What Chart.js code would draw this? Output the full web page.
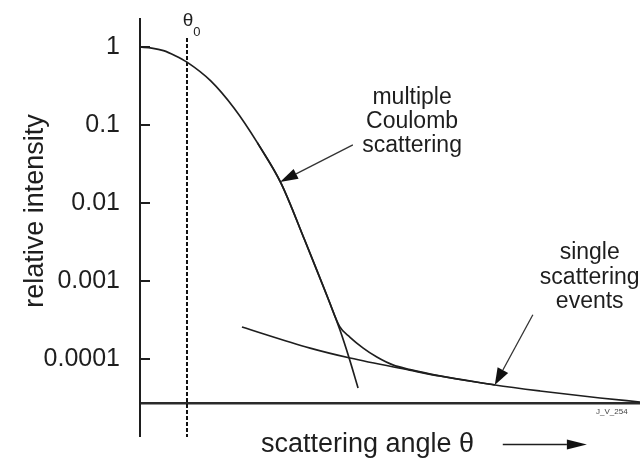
<!DOCTYPE html>
<html>
<head>
<meta charset="utf-8">
<script src="https://cdn.jsdelivr.net/npm/chart.js@4.4.1/dist/chart.umd.min.js"></script>
<style>
  html, body { margin: 0; padding: 0; background: #fff; }
  #wrap { width: 640px; height: 458px; position: relative; }
</style>
</head>
<body>
<div id="wrap"><canvas id="graph"></canvas></div>
<script>
// multiple Coulomb scattering (gaussian core)
var gaussTheta = [0, 0.25, 0.5, 0.75, 1.0, 1.5, 2.0, 2.5, 3.0, 3.5, 4.0, 4.25, 4.45, 4.64];
var gaussVal = [1.0, 0.97, 0.9, 0.775, 0.64, 0.37, 0.165, 0.059, 0.018, 0.0034, 0.0006, 0.00024, 0.000103, 0.0000425];

// sum of both, same as the gaussian at first, then bends into the tail
var combTheta = [2.5, 3.0, 3.5, 4.0, 4.25, 4.47, 4.75, 5.04, 5.38, 5.75, 6.38, 7.55];
var combVal = [0.059, 0.018, 0.0034, 0.0006, 0.00026, 0.00019, 0.000138, 0.000106, 0.000084, 0.000073, 0.0000607, 0.0000465];

// single scattering events (tail)
var singleTheta = [2.17, 3.62, 4.47, 5.74, 6.38, 7.55, 8.51, 9.79, 10.64];
var singleVal = [0.000257, 0.000138, 0.000103, 0.000072, 0.0000605, 0.0000464, 0.0000389, 0.0000316, 0.0000281];

var thetaZero = 1;
var yTickValues = [1, 0.1, 0.01, 0.001, 0.0001];
var yTickLabels = ['1', '0.1', '0.01', '0.001', '0.0001'];

var fontFamily = '"Liberation Sans", Arial, sans-serif';
var ink = '#1e1e1e';

function pairs(xs, ys) {
  return xs.map(function (v, i) { return {x: v, y: ys[i]}; });
}

function arrow(ctx, x0, y0, x1, y1, headLen, headHalf) {
  var ang = Math.atan2(y1 - y0, x1 - x0);
  var bx = x1 - headLen * Math.cos(ang), by = y1 - headLen * Math.sin(ang);
  ctx.beginPath(); ctx.moveTo(x0, y0); ctx.lineTo(bx, by); ctx.stroke();
  ctx.beginPath();
  ctx.moveTo(x1, y1);
  ctx.lineTo(bx + headHalf * Math.sin(ang), by - headHalf * Math.cos(ang));
  ctx.lineTo(bx - headHalf * Math.sin(ang), by + headHalf * Math.cos(ang));
  ctx.closePath(); ctx.fill();
}

// labels, arrows and inward tick marks
const notes = {
  id: 'notes',
  afterDraw(chart) {
    const {ctx, chartArea, scales: {x, y}} = chart;
    const px = function (v) { return x.getPixelForValue(v); };
    const py = function (v) { return y.getPixelForValue(v); };
    ctx.save();
    ctx.strokeStyle = ink;
    ctx.fillStyle = ink;

    // tick marks pointing into the plot
    ctx.lineWidth = 2;
    yTickValues.forEach(function (v) {
      ctx.beginPath();
      ctx.moveTo(chartArea.left, py(v));
      ctx.lineTo(chartArea.left + 10, py(v));
      ctx.stroke();
    });
    // y axis runs on below the x axis
    ctx.beginPath();
    ctx.moveTo(chartArea.left, chartArea.bottom);
    ctx.lineTo(chartArea.left, py(1e-5));
    ctx.stroke();

    ctx.textAlign = 'center';
    ctx.textBaseline = 'middle';
    ctx.font = '23px ' + fontFamily;
    ['multiple', 'Coulomb', 'scattering'].forEach(function (t, i) {
      ctx.fillText(t, px(5.79), py(0.222) + i * 24);
    });
    ['single', 'scattering', 'events'].forEach(function (t, i) {
      ctx.fillText(t, px(9.57), py(0.00229) + i * 24.5);
    });

    ctx.font = '19px ' + fontFamily;
    ctx.fillText('\u03b8', px(1.02), py(2.2));
    ctx.font = '13px ' + fontFamily;
    ctx.fillText('0', px(1.21), py(1.55));

    ctx.font = '8px ' + fontFamily;
    ctx.fillStyle = '#444';
    ctx.fillText('J_V_254', px(10.04), py(2.09e-5));

    ctx.strokeStyle = '#333';
    ctx.fillStyle = '#111';
    ctx.lineWidth = 1.3;
    arrow(ctx, px(4.53), py(0.0555), px(2.98), py(0.0186), 18, 5.5);
    arrow(ctx, px(8.36), py(3.69e-4), px(7.55), py(4.64e-5), 17, 6);
    var ty = x.bottom - 13.5;
    ctx.strokeStyle = ink;
    arrow(ctx, px(7.72), ty, px(9.51), ty, 20, 5);
    ctx.restore();
  }
};

const curveStyle = {
  borderColor: ink,
  borderWidth: 1.7,
  pointRadius: 0,
  fill: false,
  cubicInterpolationMode: 'monotone'
};

const config = {
  type: 'line',
  data: {
    datasets: [
      Object.assign({label: 'multiple Coulomb scattering', data: pairs(gaussTheta, gaussVal)}, curveStyle),
      Object.assign({label: 'total', data: pairs(combTheta, combVal)}, curveStyle),
      Object.assign({label: 'single scattering events', data: pairs(singleTheta, singleVal)}, curveStyle),
      {
        label: 'theta0',
        data: [{x: thetaZero, y: 1.3}, {x: thetaZero, y: 1e-5}],
        borderColor: '#111',
        borderWidth: 2,
        borderDash: [4, 2],
        pointRadius: 0,
        clip: false
      }
    ]
  },
  options: {
    responsive: true,
    maintainAspectRatio: false,
    animation: false,
    layout: {padding: {top: 19, left: 0, right: 0, bottom: 0}},
    plugins: {legend: {display: false}, tooltip: {enabled: false}},
    scales: {
      x: {
        type: 'linear',
        min: 0,
        max: 10.64,
        grid: {display: false},
        ticks: {display: false},
        border: {display: true, color: '#2a2a2a', width: 2.5},
        title: {
          display: true,
          text: 'scattering angle \u03b8      ',
          color: ink,
          font: {size: 27, family: fontFamily, lineHeight: 1},
          padding: {top: 0, bottom: 0}
        },
        afterFit: function (scale) { scale.height = 55; }
      },
      y: {
        type: 'logarithmic',
        min: 2.728e-5,
        max: 2.286,
        grid: {display: false},
        border: {display: true, color: ink, width: 2},
        ticks: {
          color: ink,
          padding: 12,
          font: {size: 25, family: fontFamily},
          callback: function (v) {
            var i = yTickValues.findIndex(function (t) { return Math.abs(t - v) / t < 1e-6; });
            return i >= 0 ? yTickLabels[i] : '';
          }
        },
        afterBuildTicks: function (scale) {
          scale.ticks = yTickValues.map(function (v) { return {value: v}; });
        },
        title: {
          display: true,
          text: 'relative intensity',
          color: ink,
          font: {size: 27, family: fontFamily},
          padding: {top: 19, bottom: 0}
        },
        afterFit: function (scale) {
          scale.width = 140;
          scale.paddingTop = 0;
          scale.paddingBottom = 0;
        }
      }
    }
  },
  plugins: [notes]
};

var myChart = new Chart(document.getElementById('graph'), config);
</script>
</body>
</html>
